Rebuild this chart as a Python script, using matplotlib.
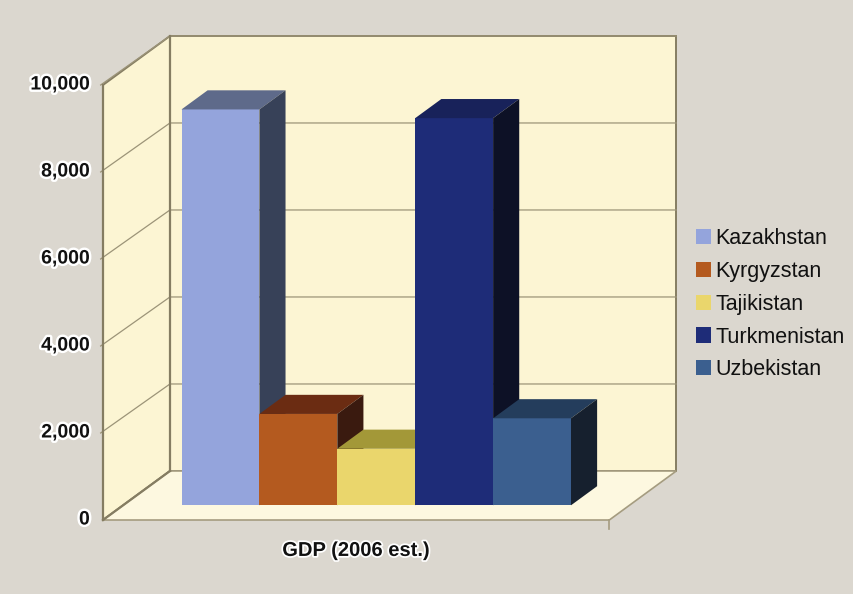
import matplotlib
matplotlib.use("Agg")
import matplotlib.pyplot as plt
from matplotlib.patches import Polygon, Patch
import matplotlib.patheffects as pe

countries = ["Kazakhstan", "Kyrgyzstan", "Tajikistan", "Turkmenistan", "Uzbekistan"]
gdp = [9100, 2100, 1300, 8900, 2000]
yticks = [0, 2000, 4000, 6000, 8000, 10000]
ytick_labels = ["0", "2,000", "4,000", "6,000", "8,000", "10,000"]
xlabel = "GDP (2006 est.)"

front_col = ["#94a4dc", "#b45a1f", "#ead66c", "#1e2c78", "#3b5f8f"]
top_col = ["#5e6a8a", "#6b2c12", "#a39838", "#18225a", "#243d5c"]
side_col = ["#374158", "#3a1a0f", "#5a5220", "#0d1126", "#16202e"]

plt.rcParams['font.family'] = ['Liberation Sans', 'DejaVu Sans']

fig = plt.figure(figsize=(8.54, 5.94), dpi=100)
fig.patch.set_facecolor("#dbd7cf")
ax = fig.add_axes([0, 0, 1, 1])
ax.set_xlim(-2.072, 8.891)
ax.set_ylim(-1701, 11954)
ax.axis("off")

DX, DY = 0.86, 1127          # depth offset of the box (x units, value units)
x0, x1 = -0.75, len(countries) + 0.75
ymax = 10000
d0, d1 = 0.30, 0.69            # bar depth range

def P(x, v, d):
    return (x + d * DX, v + d * DY)

edge = "#857d62"
wall = "#fcf5d3"
floorc = "#fdf8e0"

# back wall
ax.add_patch(Polygon([P(x0, 0, 1), P(x1, 0, 1), P(x1, ymax, 1), P(x0, ymax, 1)],
                     closed=True, fc=wall, ec=edge, lw=1.4, zorder=1))
# left wall
ax.add_patch(Polygon([P(x0, 0, 0), P(x0, 0, 1), P(x0, ymax, 1), P(x0, ymax, 0)],
                     closed=True, fc=wall, ec=edge, lw=1.4, zorder=1))
# floor
ax.add_patch(Polygon([P(x0, 0, 0), P(x1, 0, 0), P(x1, 0, 1), P(x0, 0, 1)],
                     closed=True, fc=floorc, ec="#a59c80", lw=1.2, zorder=1))
ax.plot(*zip(P(x0, 0, 0), P(x0, ymax, 0)), color=edge, lw=1.6, zorder=2)
ax.plot(*zip(P(x0, 0, 1), P(x0, ymax, 1)), color=edge, lw=1.6, zorder=2)
ax.plot(*zip(P(x0, 0, 0), P(x0, 0, 1)), color=edge, lw=1.6, zorder=2)
ax.plot(*zip(P(x1, 0, 0), P(x1, 0, 0)[0:1] + (P(x1, 0, 0)[1] - 200,)), color="#a59c80", lw=1.2, zorder=2)

# gridlines
for t, lab in zip(yticks, ytick_labels):
    if 0 < t:
        a, b, c = P(x0, t, 0), P(x0, t, 1), P(x1, t, 1)
        ax.plot([a[0] - 0.03, b[0], c[0]], [a[1], b[1], c[1]], color="#9c9478", lw=0.9, zorder=1.5)
    ax.text(x0 - 0.17, t, lab, ha="right", va="center", fontsize=14, fontweight="bold",
            color="#111111", zorder=5,
            path_effects=[pe.withStroke(linewidth=3.5, foreground="white")])

# bars
for i, (v, fc, tc, sc) in enumerate(zip(gdp, front_col, top_col, side_col)):
    xl, xr = i, i + 1
    bx, by = P(xl, 0, d0)
    ax.bar(bx, v, bottom=by, width=1.0, align="edge", color=fc, edgecolor="none", zorder=3 + i * 0.1)
    ax.add_patch(Polygon([P(xl, v, d0), P(xr, v, d0), P(xr, v, d1), P(xl, v, d1)],
                         closed=True, fc=tc, ec="none", zorder=3 + i * 0.1))
    ax.add_patch(Polygon([P(xr, 0, d0), P(xr, 0, d1), P(xr, v, d1), P(xr, v, d0)],
                         closed=True, fc=sc, ec="none", zorder=3 + i * 0.1))

# category label
ax.text(P((x0 + x1) / 2, 0, 0)[0], -700, xlabel, ha="center", va="center",
        fontsize=14.5, fontweight="bold", color="#111111",
        path_effects=[pe.withStroke(linewidth=2.5, foreground="white")])

handles = [Patch(fc=c, ec="none") for c in front_col]
leg = fig.legend(handles, countries, loc="upper left", bbox_to_anchor=(696 / 854, 1 - 228 / 594),
                 frameon=False, fontsize=15.5, handlelength=0.7, handleheight=0.7,
                 handletextpad=0.2, labelspacing=0.55, borderpad=0, borderaxespad=0)
for t in leg.get_texts():
    t.set_color("#111111")

fig.savefig("out.png", dpi=100, facecolor=fig.get_facecolor())
